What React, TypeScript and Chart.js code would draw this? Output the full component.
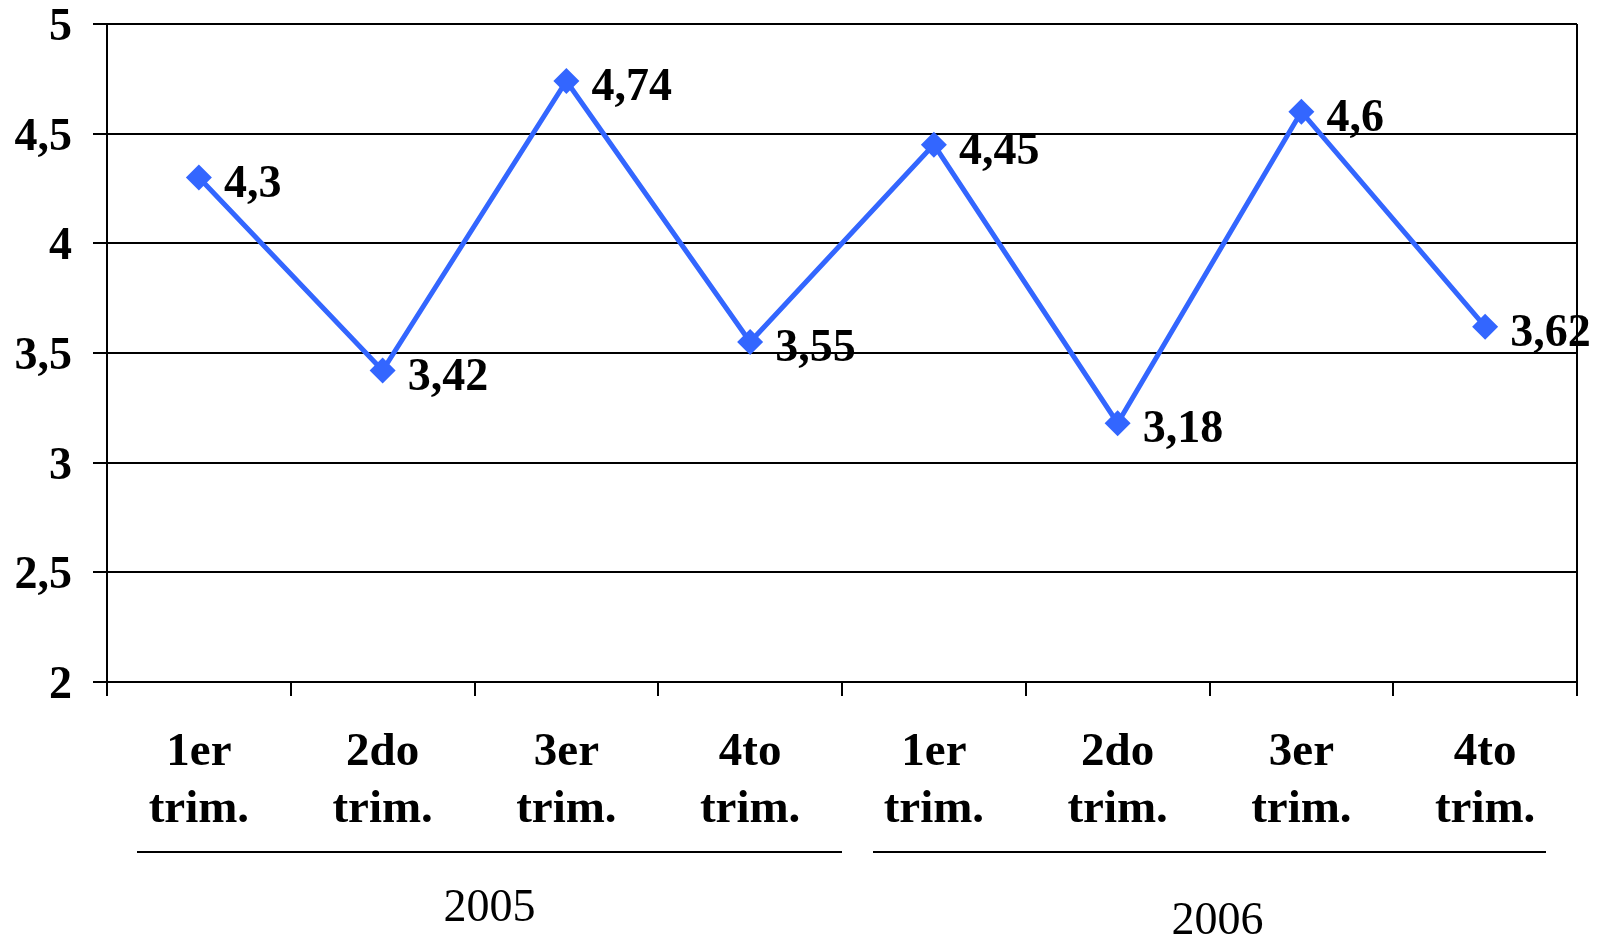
import React, { useEffect, useRef } from "react";
import { Chart, registerables } from "chart.js";

Chart.register(...registerables);

const categories: string[][] = [
  ["1er", "trim."], ["2do", "trim."], ["3er", "trim."], ["4to", "trim."],
  ["1er", "trim."], ["2do", "trim."], ["3er", "trim."], ["4to", "trim."],
];
const values: number[] = [4.3, 3.42, 4.74, 3.55, 4.45, 3.18, 4.6, 3.62];
const yearLabels: string[] = ["2005", "2006"];
const yearStartIndex: number[] = [0, 4];
const yearEndIndex: number[] = [3, 7];
const yTicks: number[] = [2, 2.5, 3, 3.5, 4, 4.5, 5];

const BLUE = "#3366FF";
const SERIF = "'Liberation Serif', 'Times New Roman', serif";

const fmt = (v: number) => String(v).replace(".", ",");

const overlayPlugin = {
  id: "overlay",
  afterDatasetsDraw(chart: any) {
    const ctx = chart.ctx;
    const meta = chart.getDatasetMeta(0);
    ctx.save();
    ctx.font = `bold 46px ${SERIF}`;
    ctx.fillStyle = "#000";
    ctx.textAlign = "left";
    ctx.textBaseline = "alphabetic";
    meta.data.forEach((pt: any, i: number) => {
      ctx.fillText(fmt(values[i]), pt.x + 25, pt.y + 19);
    });
    ctx.restore();
  },
  afterDraw(chart: any) {
    const ctx = chart.ctx;
    const area = chart.chartArea;
    const xs = chart.scales.x;
    ctx.save();
    // right border
    ctx.strokeStyle = "#000";
    ctx.lineWidth = 2;
    ctx.beginPath();
    ctx.moveTo(area.right, area.top);
    ctx.lineTo(area.right, area.bottom);
    ctx.stroke();
    // year groups
    const half = (xs.getPixelForValue(1) - xs.getPixelForValue(0)) / 2;
    const insets = [[30, 0], [31, 31]];
    const labelDy = [57, 70];
    const labelDx = [0, 8];
    const lineY = area.bottom + 170;
    ctx.font = `46px ${SERIF}`;
    ctx.fillStyle = "#000";
    ctx.textAlign = "center";
    ctx.textBaseline = "middle";
    yearLabels.forEach((lab, g) => {
      const x0 = xs.getPixelForValue(yearStartIndex[g]) - half + insets[g][0];
      const x1 = xs.getPixelForValue(yearEndIndex[g]) + half - insets[g][1];
      ctx.beginPath();
      ctx.moveTo(x0, lineY);
      ctx.lineTo(x1, lineY);
      ctx.stroke();
      ctx.fillText(lab, (x0 + x1) / 2 + labelDx[g], lineY + labelDy[g]);
    });
    ctx.restore();
  },
};

export default function App() {
  const ref = useRef<HTMLCanvasElement | null>(null);
  useEffect(() => {
    if (!ref.current) return;
    const chart = new Chart(ref.current, {
      type: "line",
      data: {
        labels: categories,
        datasets: [
          {
            data: values,
            borderColor: BLUE,
            backgroundColor: BLUE,
            borderWidth: 5,
            tension: 0,
            pointStyle: "rectRot",
            pointRadius: 13,
            pointBorderWidth: 0,
            pointBackgroundColor: BLUE,
            clip: false as any,
          },
        ],
      },
      options: {
        responsive: false,
        animation: false,
        layout: { padding: { top: 24, right: 25, left: 0, bottom: 0 } },
        plugins: { legend: { display: false }, tooltip: { enabled: false } },
        scales: {
          x: {
            type: "category",
            offset: true,
            afterFit: (s: any) => {
              s.height = 255;
              s.paddingLeft = 0;
              s.paddingRight = 0;
            },
            grid: {
              display: true,
              offset: true,
              drawOnChartArea: false,
              drawTicks: true,
              tickLength: 14,
              color: "#000",
              lineWidth: 2,
            },
            border: { display: true, color: "#000", width: 2 },
            ticks: {
              color: "#000",
              padding: 28,
              maxRotation: 0,
              autoSkip: false,
              font: { family: SERIF, size: 47, weight: "bold", lineHeight: 1.22 },
            },
          },
          y: {
            min: 2,
            max: 5,
            afterFit: (s: any) => {
              s.width = 107;
              s.paddingTop = 0;
              s.paddingBottom = 0;
            },
            afterBuildTicks: (s: any) => { s.ticks = yTicks.map((v) => ({ value: v })); },
            grid: {
              color: "#000",
              lineWidth: 2,
              drawTicks: true,
              tickLength: 14,
            },
            border: { display: true, color: "#000", width: 2 },
            ticks: {
              color: "#000",
              padding: 21,
              labelOffset: 4,
              callback: (v: any) => fmt(Number(v)),
              font: { family: SERIF, size: 46, weight: "bold", lineHeight: 1 },
            },
          },
        },
      },
      plugins: [overlayPlugin],
    });
    return () => chart.destroy();
  }, []);
  return (
    <canvas
      ref={ref}
      width={1602}
      height={937}
      style={{ position: "absolute", left: 0, top: 0, width: 1602, height: 937 }}
    />
  );
}
